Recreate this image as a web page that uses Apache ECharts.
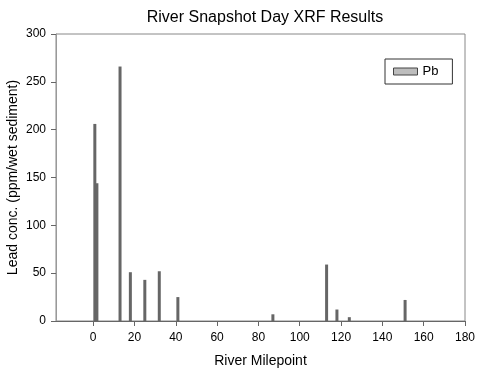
<!DOCTYPE html>
<html><head><meta charset="utf-8">
<script src="https://cdn.jsdelivr.net/npm/echarts@6/dist/echarts.min.js"></script>
<style>html,body{margin:0;padding:0;background:#fff}#c{width:500px;height:371px}</style>
</head><body><div id="c"></div>
<script>
const mileposts = [0.8, 1.8, 13, 18, 25, 32, 41, 87, 113, 118, 124, 151];
const leadPb = [206, 144, 266, 51, 43, 52, 25, 7, 59, 12, 4, 22];
const xTicks = [0, 20, 40, 60, 80, 100, 120, 140, 160, 180];
const seriesName = 'Pb';

const chart = echarts.init(document.getElementById('c'));
const font = 'Liberation Sans, Arial, sans-serif';
chart.setOption({
  animation: false,
  backgroundColor: '#fff',
  title: {
    text: 'River Snapshot Day XRF Results',
    left: 260, top: 5, textAlign: 'center',
    textStyle: {fontFamily: font, fontSize: 16, fontWeight: 'normal', color: '#000'}
  },
  legend: {
    left: 385, top: 59,
    data: [{name: seriesName, itemStyle: {color: '#bdbdbd', borderColor: '#444', borderWidth: 1}}],
    icon: 'rect', itemWidth: 24, itemHeight: 7, itemGap: 5,
    borderColor: '#333', borderWidth: 1, padding: [6, 14, 6, 8],
    textStyle: {fontFamily: font, fontSize: 13, color: '#000'}
  },
  grid: {left: 56, right: 35, top: 34, bottom: 50, containLabel: false, outerBoundsMode: 'none',
         show: true, borderColor: '#888', borderWidth: 1, backgroundColor: 'transparent'},
  xAxis: {
    type: 'value', min: -18, max: 180,
    name: 'River Milepoint', nameLocation: 'middle', nameGap: 33, nameMoveOverlap: false,
    nameTextStyle: {fontFamily: font, fontSize: 14, color: '#000'},
    axisLine: {show: true, onZero: false, lineStyle: {color: '#666'}},
    axisTick: {show: true, length: 5, lineStyle: {color: '#666'}, customValues: xTicks},
    axisLabel: {fontFamily: font, fontSize: 12, color: '#000', margin: 11, customValues: xTicks},
    splitLine: {show: false}
  },
  yAxis: {
    type: 'value', min: 0, max: 300, interval: 50,
    name: 'Lead conc. (ppm/wet sediment)', nameLocation: 'middle', nameGap: 36, nameMoveOverlap: false,
    nameTextStyle: {fontFamily: font, fontSize: 14, color: '#000'},
    axisLine: {show: true, onZero: false, lineStyle: {color: '#999'}},
    axisTick: {show: true, length: 5, lineStyle: {color: '#666'}},
    axisLabel: {fontFamily: font, fontSize: 12, color: '#000', margin: 10},
    splitLine: {show: false}
  },
  series: [{
    name: seriesName, type: 'bar', barWidth: 3,
    itemStyle: {color: '#666', borderColor: '#555', borderWidth: 0},
    data: mileposts.map((m, i) => [m, leadPb[i]])
  }]
});
</script></body></html>
